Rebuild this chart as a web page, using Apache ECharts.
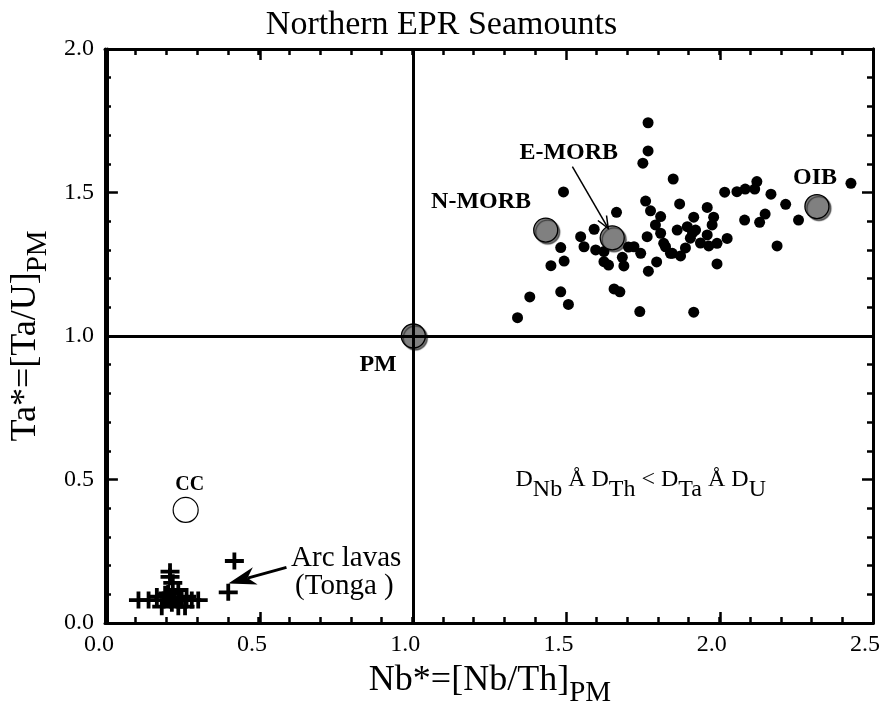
<!DOCTYPE html>
<html><head><meta charset="utf-8">
<script src="https://cdn.jsdelivr.net/npm/echarts@6/dist/echarts.min.js"></script>
<style>html,body{margin:0;padding:0;background:#fff}#c{width:883px;height:717px}</style>
</head><body><div id="c"></div>
<script>
// ---- data ----
const seamounts = [
[1.766,1.743],[1.766,1.645],[1.749,1.602],[1.848,1.547],[1.490,1.502],[1.758,1.470],[1.774,1.436],
[1.807,1.416],[1.663,1.431],[1.869,1.460],[1.590,1.372],[1.546,1.346],[1.557,1.311],[1.595,1.300],
[1.622,1.294],[1.481,1.308],[1.492,1.261],[1.449,1.245],[1.622,1.259],[1.637,1.247],[1.682,1.274],
[1.687,1.244],[1.720,1.311],[1.742,1.288],[1.763,1.346],[1.807,1.358],[1.823,1.311],[1.845,1.288],
[1.767,1.226],[1.380,1.136],[1.481,1.154],[1.506,1.110],[1.655,1.164],[1.674,1.154],[1.340,1.064],
[1.739,1.085],[2.121,1.538],[2.114,1.512],[2.083,1.512],[2.056,1.503],[2.016,1.501],[2.167,1.494],
[2.215,1.459],[2.428,1.532],[1.959,1.448],[2.148,1.425],[2.130,1.396],[2.081,1.404],[2.257,1.404],
[1.915,1.414],[1.980,1.414],[1.975,1.387],[1.921,1.369],[1.894,1.381],[1.861,1.369],[1.959,1.352],
[2.024,1.340],[1.991,1.323],[1.964,1.314],[2.187,1.314],[1.991,1.251],[1.915,1.083],[1.839,1.288],
[1.817,1.323],[1.790,1.387],[1.904,1.341],[1.937,1.324],[1.888,1.307],[1.872,1.279],[1.702,1.310],
[1.794,1.258],[1.911,1.359]
];
const arcLavas = [
[0.416,0.216],[0.396,0.107],[0.206,0.179],[0.206,0.161],[0.215,0.140],[0.103,0.080],[0.136,0.080],
[0.163,0.092],[0.185,0.080],[0.200,0.103],[0.233,0.115],[0.244,0.080],[0.260,0.092],[0.277,0.080],
[0.298,0.080],[0.179,0.057],[0.233,0.057],[0.212,0.069],[0.255,0.057],[0.220,0.090],[0.190,0.100]
];
const reservoirs = [
  {name:'PM', value:[1.0,1.0]},
  {name:'N-MORB', value:[1.432,1.369]},
  {name:'E-MORB', value:[1.649,1.342]},
  {name:'OIB', value:[2.317,1.451]}
];
const ccPoint = [[0.257,0.394]];
const refLineX = 1.0, refLineY = 1.0;
const xTicks = {min:0, max:2.5, step:0.5, minor:0.1};
const yTicks = {min:0, max:2.0, step:0.5, minor:0.1};
const labels = [
  {t:'N-MORB', p:[1.221,1.467], bold:true},
  {t:'E-MORB', p:[1.507,1.638], bold:true},
  {t:'OIB', p:[2.311,1.551], bold:true},
  {t:'PM', p:[0.885,0.899], bold:true},
  {t:'CC', p:[0.270,0.481], bold:true, small:true},
  {t:'Arc lavas', p:[0.781,0.226]},
  {t:'(Tonga )', p:[0.775,0.129]}
];
const arrows = [
  {from:[1.519,1.590], to:[1.636,1.375], kind:'open'},
  {from:[0.586,0.194], to:[0.396,0.138], kind:'filled'}
];
const partitionText = {p:[1.742,0.498]};

// ---- chart ----
const FF = '"Liberation Serif", "DejaVu Serif", serif';
const chart = echarts.init(document.getElementById('c'), null, {renderer:'canvas'});
const crossPath = 'path://M8,0h4v7h8v4h-8v7h-4v-7h-8v-4h8z';

function mkAxis(pos, t, major, showLabel, gridIndex){
  return {
    type:'value', gridIndex:gridIndex, position:pos, min:t.min, max:t.max, interval: major ? t.step : t.minor,
    axisLine:{show:true, onZero:false, lineStyle:{color:'#000', width:3}},
    axisTick:{show:true, inside:true, length: major ? 11 : 6, lineStyle:{color:'#000', width:2.5}},
    splitLine:{show:false},
    axisLabel:{show:showLabel, color:'#000', fontFamily:FF, fontSize:24, formatter:v=>v.toFixed(1)}
  };
}
const nameRich = {
  a:{fontFamily:FF, fontSize:36, color:'#000', verticalAlign:'top', lineHeight:36},
  s:{fontFamily:FF, fontSize:29, color:'#000', verticalAlign:'top', lineHeight:29, padding:[16,0,0,0]}
};
const xa = mkAxis('bottom',xTicks,true,true,0);
Object.assign(xa, {name:'{a|Nb*=[Nb/Th]}{s|PM}', nameLocation:'middle', nameGap:40,
  nameTextStyle:{color:'#000', fontFamily:FF, fontSize:36, rich:nameRich}});
xa.axisLabel.margin = 10; xa.axisLabel.padding = [0,16,0,0];
const ya = mkAxis('left',yTicks,true,true,0);
Object.assign(ya, {name:'{a|Ta*=[Ta/U]}{s|PM}', nameLocation:'middle', nameGap:50, nameRotate:90,
  nameTextStyle:{color:'#000', fontFamily:FF, fontSize:36, rich:nameRich}});
ya.axisLabel.margin = 13; ya.axisLabel.padding = [0,0,8,0];

const gridRect = {left:105, right:10, top:49, bottom:94};
const option = {
  animation:false,
  backgroundColor:'#fff',
  title:{text:'Northern EPR Seamounts', left:'center', top:3,
    textStyle:{fontFamily:FF, fontSize:34, fontWeight:'normal', color:'#000'}},
  grid:[Object.assign({}, gridRect), Object.assign({}, gridRect)],
  xAxis:[xa, mkAxis('top',xTicks,true,false,0), mkAxis('bottom',xTicks,false,false,1), mkAxis('top',xTicks,false,false,1)],
  yAxis:[ya, mkAxis('right',yTicks,true,false,0), mkAxis('left',yTicks,false,false,1), mkAxis('right',yTicks,false,false,1)],
  series:[
    {type:'scatter', xAxisIndex:0, yAxisIndex:0, data:arcLavas, symbol:crossPath, symbolSize:[19,17],
      itemStyle:{color:'#000', opacity:1}, z:3},
    {type:'scatter', xAxisIndex:0, yAxisIndex:0, data:seamounts, symbol:'circle', symbolSize:11,
      itemStyle:{color:'#000', opacity:1}, z:3},
    {type:'scatter', xAxisIndex:0, yAxisIndex:0, data:ccPoint, symbol:'circle', symbolSize:25,
      itemStyle:{color:'#fff', borderColor:'#000', borderWidth:1.2, opacity:1}, z:3},
    {type:'scatter', xAxisIndex:0, yAxisIndex:0, data:reservoirs, symbol:'circle', symbolSize:24,
      itemStyle:{color:'#808080', borderColor:'#000', borderWidth:1.3, opacity:1,
        shadowColor:'rgba(0,0,0,0.55)', shadowOffsetX:2, shadowOffsetY:2, shadowBlur:1}, z:4},
    {type:'line', xAxisIndex:0, yAxisIndex:0, data:[], z:5,
      markLine:{silent:true, symbol:'none', animation:false, label:{show:false},
        lineStyle:{color:'#000', width:3, type:'solid'},
        data:[{xAxis:refLineX}, {yAxis:refLineY}]}},
    {type:'line', xAxisIndex:2, yAxisIndex:2, data:[]}
  ]
};
chart.setOption(option);

function px(p){ return chart.convertToPixel({xAxisIndex:0, yAxisIndex:0}, p); }
const g = [];
labels.forEach(l=>{
  const c = px(l.p);
  g.push({type:'text', x:c[0], y:c[1], z:10, style:{text:l.t, fill:'#000',
    font:(l.bold?'bold ':'')+(l.small?'20px ':(l.bold?'24px ':'29px '))+FF,
    textAlign:'center', textVerticalAlign:'middle'}});
});
arrows.forEach(a=>{
  const s = px(a.from), t = px(a.to);
  const dx = t[0]-s[0], dy = t[1]-s[1], L = Math.hypot(dx,dy), ux = dx/L, uy = dy/L;
  const nx = -uy, ny = ux;
  if (a.kind==='open'){
    g.push({type:'line', z:10, shape:{x1:s[0],y1:s[1],x2:t[0],y2:t[1]}, style:{stroke:'#000', lineWidth:1.5}});
    const hl = 12, hw = 5;
    g.push({type:'polyline', z:10, shape:{points:[[t[0]-ux*hl+nx*hw, t[1]-uy*hl+ny*hw],[t[0],t[1]],[t[0]-ux*hl-nx*hw, t[1]-uy*hl-ny*hw]]},
      style:{stroke:'#000', lineWidth:1.5, fill:null}});
  } else {
    const hl = 28, hw = 9, notch = 20;
    const nb = [t[0]-ux*notch, t[1]-uy*notch];
    g.push({type:'line', z:10, shape:{x1:s[0],y1:s[1],x2:nb[0],y2:nb[1]}, style:{stroke:'#000', lineWidth:3}});
    g.push({type:'polygon', z:10, shape:{points:[[t[0],t[1]],[t[0]-ux*hl+nx*hw, t[1]-uy*hl+ny*hw],[nb[0],nb[1]],[t[0]-ux*hl-nx*hw, t[1]-uy*hl-ny*hw]]},
      style:{fill:'#000'}});
  }
});
const pc = px(partitionText.p);
g.push({type:'text', x:pc[0], y:pc[1], z:10, style:{
  text:'D{s|Nb} Å D{s|Th} < D{s|Ta} Å D{s|U}', fill:'#000', font:'24px '+FF,
  textAlign:'center', textVerticalAlign:'middle',
  rich:{s:{fontFamily:FF, fontSize:24, fill:'#000', padding:[20,0,0,0], verticalAlign:'top'}}}});
chart.setOption({graphic:g});
</script></body></html>
